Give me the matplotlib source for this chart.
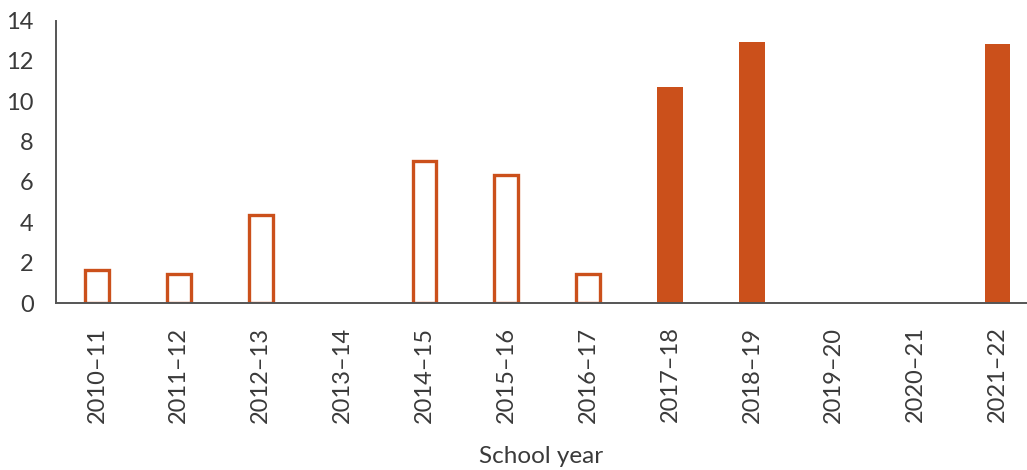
import matplotlib
matplotlib.use('Agg')
import matplotlib.pyplot as plt

# Data
years = ['2010\u201311', '2011\u201312', '2012\u201313', '2013\u201314',
         '2014\u201315', '2015\u201316', '2016\u201317', '2017\u201318',
         '2018\u201319', '2019\u201320', '2020\u201321', '2021\u201322']
values = [1.65, 1.45, 4.37, 0, 7.02, 6.35, 1.45, 10.69, 12.92, 0, 0, 12.84]
filled = [False, False, False, False, False, False, False,
          True, True, True, True, True]

orange = '#CB501B'
grey = '#555555'
text_col = '#3a3a3a'

plt.rcParams['font.family'] = ['Lato', 'DejaVu Sans']

fig = plt.figure(figsize=(10.27, 4.70), dpi=100)
ax = fig.add_axes([56 / 1027, 167 / 470, 1 - 56 / 1027, (303 - 20.5) / 470])

x = range(len(years))
for xi, v, f in zip(x, values, filled):
    if v == 0:
        continue
    if f:
        ax.bar(xi, v, width=0.31, color=orange, edgecolor='none', zorder=2)
    else:
        ax.bar(xi, v, width=0.29, facecolor='white', edgecolor=orange,
               linewidth=2.4, zorder=2)

ax.set_xlim(-0.5, 11.36)
ax.set_ylim(0, 14)
ax.set_yticks(range(0, 15, 2))
ax.set_xticks(list(x))
ax.set_xticklabels(years, rotation=90)

for side in ['top', 'right']:
    ax.spines[side].set_visible(False)
for side in ['left', 'bottom']:
    ax.spines[side].set_color(grey)
    ax.spines[side].set_linewidth(1.4)
    ax.spines[side].set_zorder(3)

ax.tick_params(axis='both', length=0, labelsize=17, labelcolor=text_col)
ax.tick_params(axis='y', pad=16)
ax.tick_params(axis='x', pad=17)

ax.set_xlabel('School year', fontsize=17.5, color=text_col, labelpad=17)

fig.savefig('out.png', dpi=100)
